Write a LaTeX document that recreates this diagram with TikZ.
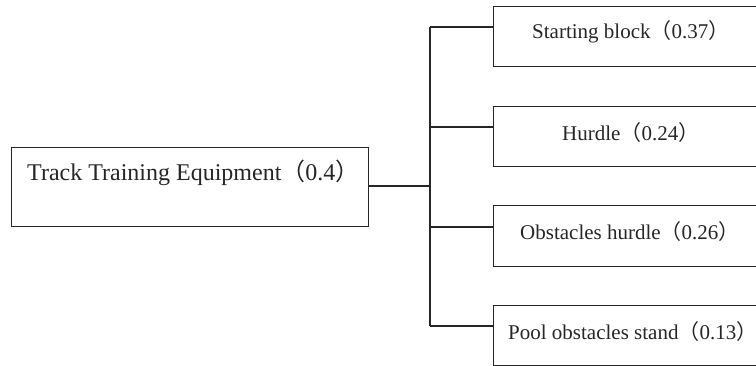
\documentclass[tikz,border=0pt]{standalone}
\usepackage{fontspec}
\setmainfont{Liberation Serif}
\newfontfamily\cjk{Noto Sans CJK SC}
\newcommand{\lp}{{\cjk （}}
\newcommand{\rp}{{\cjk ）}}
\begin{document}
\begin{tikzpicture}[x=1pt,y=-1pt,
  box/.style={draw=black!85,line width=1.2pt,rectangle,inner sep=0pt,anchor=north west},
  lbl/.style={inner sep=0pt,anchor=west,text=black!85},
  conn/.style={draw=black!85,line width=1.2pt}]
\useasboundingbox (0,0) rectangle (756,365);
\clip (0,0) rectangle (756,365);
\node[box,minimum width=357pt,minimum height=79pt] (root) at (11,147) {};
\node[lbl,font=\fontsize{24}{26}\selectfont] (roott) at (27,173) {Track Training Equipment\lp 0.4\rp};
\node[box,minimum width=290pt,minimum height=60pt] (b1) at (493,6) {};
\node[box,minimum width=290pt,minimum height=60pt] (b2) at (493,106) {};
\node[box,minimum width=290pt,minimum height=61pt] (b3) at (493,205) {};
\node[box,minimum width=290pt,minimum height=60pt] (b4) at (493,305) {};
\node[lbl,font=\fontsize{21}{23}\selectfont] (t1) at (532,32) {Starting block\lp 0.37\rp};
\node[lbl,font=\fontsize{21}{23}\selectfont] (t2) at (562,133) {Hurdle\lp 0.24\rp};
\node[lbl,font=\fontsize{21}{23}\selectfont] (t3) at (520,232) {Obstacles hurdle\lp 0.26\rp};
\node[lbl,font=\fontsize{21}{23}\selectfont] (t4) at (508,332) {Pool obstacles stand\lp 0.13\rp};
\coordinate (j) at (430,186);
\coordinate (jt) at (430,27);
\coordinate (jb) at (430,326);
\draw[conn] (root.east |- j) -- (j);
\draw[conn] (jt) -- (jb);
\draw[conn] (jt) -- (b1.west |- jt);
\draw[conn] (430,127) -- (b2.west |- 0,127);
\draw[conn] (430,227) -- (b3.west |- 0,227);
\draw[conn] (jb) -- (b4.west |- jb);
\end{tikzpicture}
\end{document}
